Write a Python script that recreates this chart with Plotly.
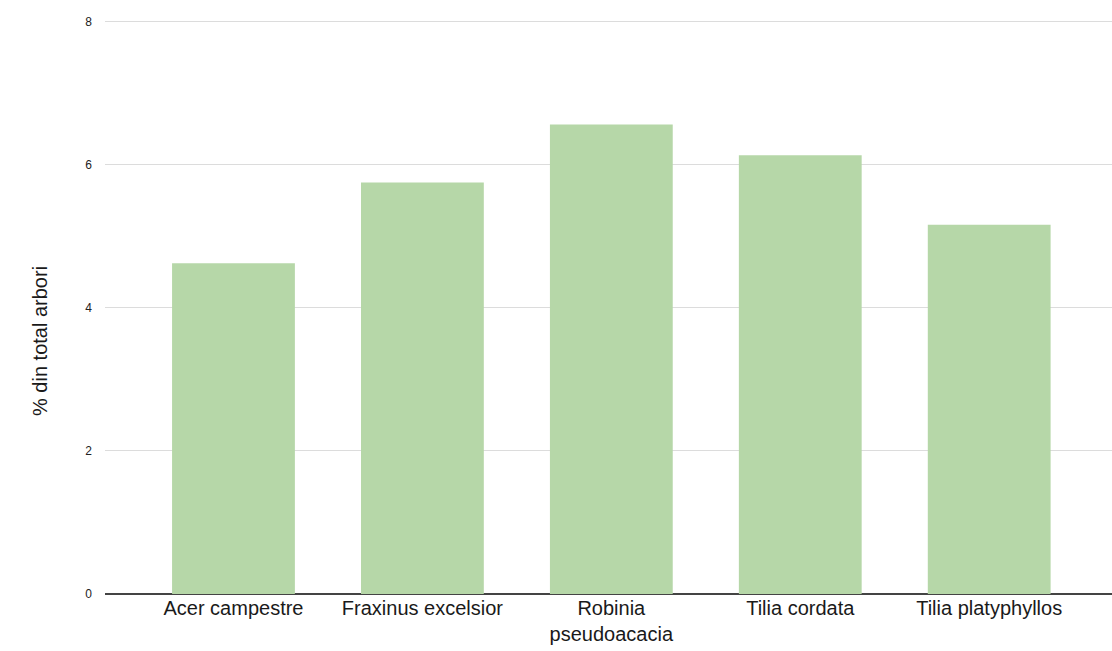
import plotly.graph_objects as go

# Share of each species in the total number of trees (%)
species = ["Acer campestre", "Fraxinus excelsior", "Robinia<br>pseudoacacia",
           "Tilia cordata", "Tilia platyphyllos"]
share_pct = [4.62, 5.75, 6.56, 6.13, 5.16]
y_ticks = [0, 2, 4, 6, 8]

fig = go.Figure(
    go.Bar(
        x=list(range(len(species))),
        y=share_pct,
        marker=dict(color="#b6d7a8", line=dict(width=0)),
        hoverinfo="y",
    )
)

fig.update_layout(
    width=1112,
    height=651,
    margin=dict(l=105, r=0, t=20, b=57),
    paper_bgcolor="white",
    plot_bgcolor="white",
    bargap=0.35,
    showlegend=False,
    font=dict(family="Liberation Sans, Arial, sans-serif", color="#222222"),
)

fig.update_xaxes(
    tickmode="array",
    tickvals=list(range(len(species))),
    ticktext=species,
    range=[-0.68, 4.65],
    tickfont=dict(size=20, color="#1a1a1a"),
    showgrid=False,
    showline=False,
    ticks="",
    zeroline=False,
)

fig.update_yaxes(
    range=[0, 8.02],
    tickmode="array",
    tickvals=y_ticks,
    ticktext=[str(v) for v in y_ticks],
    tickfont=dict(size=12, family="Liberation Sans Narrow, Arial Narrow, sans-serif",
                  color="#222222"),
    ticklabelstandoff=12,
    showgrid=True,
    gridcolor="#dcdcdc",
    gridwidth=1,
    zeroline=True,
    zerolinecolor="#444444",
    zerolinewidth=1.5,
    showline=False,
    ticks="",
)

# Vertical axis title
fig.add_annotation(
    text="% din total arbori",
    xref="paper", yref="paper",
    x=-0.064, y=0.44,
    xanchor="center", yanchor="middle",
    textangle=-90,
    showarrow=False,
    font=dict(size=20, color="#1a1a1a", family="Liberation Sans, Arial, sans-serif"),
)

fig.write_html("out.html")
